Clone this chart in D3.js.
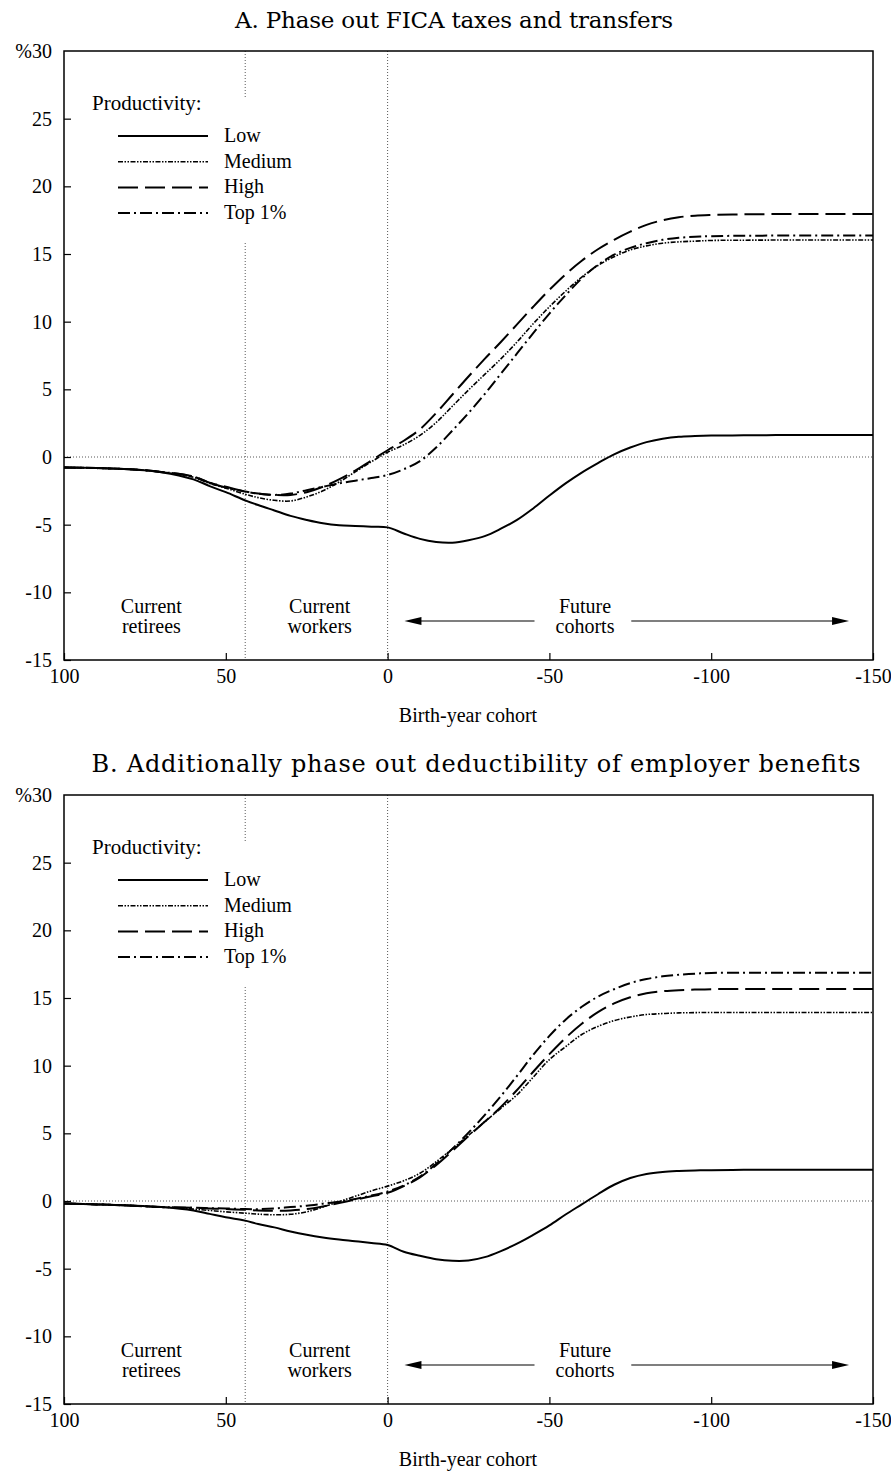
<!DOCTYPE html>
<html>
<head>
<meta charset="utf-8">
<script src="https://cdn.jsdelivr.net/npm/d3@7"></script>
<style>
    body { margin: 0; background: #fff; }
    svg text { font-family: "Liberation Serif", "Times New Roman", serif; fill: #000; }
    svg text.title { font-family: "DejaVu Serif", serif; }
</style>
</head>
<body>
<svg id="chart"></svg>
<script>
// birth-year cohorts (years before/after the reform start)
const cohorts = [100, 90, 80, 70, 60, 55, 50, 44, 40, 35, 30, 25, 20, 15, 10, 5, 0,
    -5, -10, -15, -20, -25, -30, -35, -40, -45, -50, -55, -60, -65, -70, -75, -80, -85, -90, -95, -100,
    -110, -120, -130, -140, -150];

// panel A: phase out FICA taxes and transfers
const lowA = [-0.77, -0.82, -0.9, -1.12, -1.65, -2.15, -2.6, -3.2, -3.55, -3.95, -4.35, -4.65, -4.9, -5.05, -5.1, -5.15, -5.2,
    -5.65, -6.05, -6.28, -6.33, -6.15, -5.85, -5.3, -4.65, -3.8, -2.85, -1.95, -1.15, -0.45, 0.2, 0.7, 1.1, 1.35, 1.5, 1.55, 1.58,
    1.6, 1.62, 1.62, 1.62, 1.62];
const mediumA = [-0.77, -0.82, -0.9, -1.1, -1.5, -1.95, -2.3, -2.75, -3.0, -3.2, -3.25, -2.95, -2.5, -1.85, -1.1, -0.35, 0.35,
    0.9, 1.6, 2.55, 3.75, 4.95, 6.1, 7.25, 8.5, 9.85, 11.1, 12.25, 13.3, 14.15, 14.8, 15.3, 15.6, 15.8, 15.9, 15.95, 16.0,
    16.02, 16.03, 16.03, 16.03, 16.03];
const highA = [-0.77, -0.82, -0.9, -1.1, -1.45, -1.9, -2.2, -2.55, -2.7, -2.8, -2.8, -2.6, -2.2, -1.65, -1.0, -0.25, 0.5,
    1.2, 2.05, 3.25, 4.6, 5.95, 7.25, 8.5, 9.8, 11.1, 12.35, 13.5, 14.5, 15.35, 16.05, 16.65, 17.15, 17.5, 17.72, 17.83, 17.88,
    17.93, 17.95, 17.95, 17.95, 17.95];
const topA = [-0.77, -0.82, -0.9, -1.1, -1.45, -1.9, -2.25, -2.55, -2.7, -2.8, -2.7, -2.45, -2.2, -1.95, -1.75, -1.55, -1.33,
    -0.9, -0.3, 0.7, 1.95, 3.25, 4.65, 6.15, 7.65, 9.15, 10.6, 11.95, 13.2, 14.2, 14.95, 15.45, 15.8, 16.05, 16.2, 16.28, 16.32,
    16.35, 16.36, 16.36, 16.36, 16.36];

// panel B: additionally phase out deductibility of employer benefits
const lowB = [-0.18, -0.25, -0.33, -0.45, -0.7, -0.95, -1.2, -1.45, -1.7, -1.95, -2.25, -2.5, -2.7, -2.85, -2.97, -3.1, -3.25,
    -3.75, -4.05, -4.3, -4.42, -4.4, -4.15, -3.7, -3.15, -2.5, -1.8, -1.0, -0.25, 0.5, 1.2, 1.7, 2.0, 2.15, 2.22, 2.26, 2.28,
    2.3, 2.3, 2.3, 2.3, 2.3];
const mediumB = [-0.18, -0.25, -0.33, -0.45, -0.6, -0.7, -0.8, -0.9, -0.97, -1.02, -0.98, -0.8, -0.45, -0.05, 0.35, 0.75, 1.1,
    1.5, 2.05, 2.9, 3.85, 4.85, 5.85, 6.85, 7.85, 9.15, 10.45, 11.4, 12.3, 12.9, 13.33, 13.6, 13.78, 13.85, 13.9, 13.92, 13.93,
    13.93, 13.93, 13.93, 13.93, 13.93];
const highB = [-0.18, -0.25, -0.33, -0.45, -0.5, -0.55, -0.6, -0.65, -0.7, -0.72, -0.7, -0.6, -0.4, -0.15, 0.1, 0.35, 0.6,
    1.1, 1.75, 2.65, 3.7, 4.8, 5.85, 6.95, 8.2, 9.55, 10.85, 12.05, 13.1, 13.95, 14.6, 15.05, 15.35, 15.5, 15.58, 15.62, 15.65,
    15.67, 15.67, 15.67, 15.67, 15.67];
const topB = [-0.18, -0.25, -0.33, -0.45, -0.5, -0.53, -0.55, -0.6, -0.6, -0.55, -0.45, -0.35, -0.2, -0.05, 0.15, 0.4, 0.7,
    1.15, 1.8, 2.75, 3.85, 5.05, 6.35, 7.75, 9.25, 10.8, 12.2, 13.4, 14.35, 15.1, 15.65, 16.1, 16.4, 16.6, 16.72, 16.8, 16.85,
    16.87, 16.87, 16.87, 16.87, 16.87];

const seriesNames = ["Low", "Medium", "High", "Top 1%"];
const xTicks = [100, 50, 0, -50, -100, -150];
const yTicks = [-15, -10, -5, 0, 5, 10, 15, 20, 25, 30];
const titles = ["A. Phase out FICA taxes and transfers", "B. Additionally phase out deductibility of employer benefits"];
const xLabel = "Birth-year cohort";
const legendTitle = "Productivity:";
const retireeCohort = 44;
const groupLabels = [
    {lines: ["Current", "retirees"], cohort: 73},
    {lines: ["Current", "workers"], cohort: 21},
    {lines: ["Future", "cohorts"], cohort: -61}
];
const futureArrows = [[-45.4, -5.2], [-75.3, -142.6]];

const lineStyles = {
    "Low": {width: 2, dash: null},
    "Medium": {width: 1.6, dash: "5,1.5,1.5,1.5,1.5,1.5"},
    "High": {width: 2, dash: "20,7"},
    "Top 1%": {width: 2, dash: "12,4,2,4"}
};

// title box per panel: centre x, stretched width, font size
const titleBoxes = [
    {cx: 454, w: 438, size: 23},
    {cx: 476, w: 769, size: 24}
];

class PanelChart {
    left = 64;
    width = 809;
    height = 609;

    constructor(svg, top, title, titleBox, series, id) {
        this.svg = svg;
        this.top = top;
        this.title = title;
        this.titleBox = titleBox;
        this.series = series;
        this.id = id;
    }

    initialize() {
        this.xScale = d3.scaleLinear().domain([100, -150]).range([this.left, this.left + this.width]);
        this.yScale = d3.scaleLinear().domain([-15, 30]).range([this.top + this.height, this.top]);
        this.container = this.svg.append("g");

        this.svg.append("clipPath")
            .attr("id", "clip" + this.id)
            .append("rect")
            .attr("x", this.left).attr("y", this.top)
            .attr("width", this.width).attr("height", this.height);
    }

    draw() {
        const x = this.xScale, y = this.yScale, g = this.container;

        g.append("text")
            .attr("class", "title")
            .attr("x", this.titleBox.cx)
            .attr("y", this.top - 23)
            .attr("text-anchor", "middle")
            .attr("textLength", this.titleBox.w)
            .attr("lengthAdjust", "spacing")
            .style("font-size", this.titleBox.size + "px")
            .text(this.title);

        // dotted reference lines
        const dotted = sel => sel.attr("stroke", "#444").attr("stroke-width", 0.9).attr("stroke-dasharray", "1,2");
        g.append("line")
            .attr("x1", this.left).attr("x2", this.left + this.width)
            .attr("y1", y(0)).attr("y2", y(0))
            .call(dotted);
        g.selectAll(".vref")
            .data([retireeCohort, 0])
            .join("line")
            .attr("class", "vref")
            .attr("x1", d => x(d)).attr("x2", d => x(d))
            .attr("y1", this.top).attr("y2", this.top + this.height)
            .call(dotted);

        // axes
        const xAxis = g.append("g")
            .attr("transform", `translate(0, ${this.top + this.height})`)
            .call(d3.axisBottom(x).tickValues(xTicks).tickSize(-7).tickSizeOuter(0).tickPadding(9)
                .tickFormat(d => String(d)));
        const yAxis = g.append("g")
            .attr("transform", `translate(${this.left}, 0)`)
            .call(d3.axisLeft(y).tickValues(yTicks).tickSize(-7).tickSizeOuter(0).tickPadding(12)
                .tickFormat(d => d === 30 ? "%30" : String(d)));
        [xAxis, yAxis].forEach(a => {
            a.attr("font-family", null).attr("font-size", null);
            a.selectAll("text").style("font-size", "20px");
            a.selectAll("line").attr("stroke-width", 1.2);
            a.select(".domain").remove();
        });
        yAxis.selectAll(".tick").filter(d => d === 30).select("line").remove();

        // lines
        const line = d3.line()
            .x((d, i) => x(cohorts[i]))
            .y(d => y(d))
            .curve(d3.curveCatmullRom.alpha(0.5));
        g.append("g")
            .attr("clip-path", `url(#clip${this.id})`)
            .selectAll("path")
            .data(seriesNames)
            .join("path")
            .attr("fill", "none")
            .attr("stroke", "#000")
            .attr("stroke-width", d => lineStyles[d].width)
            .attr("stroke-dasharray", d => lineStyles[d].dash)
            .attr("d", (d, i) => line(this.series[i]));

        // legend
        const legend = g.append("g");
        legend.append("rect")
            .attr("x", 80).attr("y", this.top + 48)
            .attr("width", 220).attr("height", 142)
            .attr("fill", "#fff");
        legend.append("text")
            .attr("x", 92).attr("y", this.top + 59)
            .style("font-size", "21px")
            .text(legendTitle);
        const rows = legend.selectAll(".row")
            .data(seriesNames)
            .join("g")
            .attr("class", "row")
            .attr("transform", (d, i) => `translate(0, ${this.top + 85 + i * 25.7})`);
        rows.append("line")
            .attr("x1", 118).attr("x2", 208)
            .attr("stroke", "#000")
            .attr("stroke-width", d => lineStyles[d].width)
            .attr("stroke-dasharray", d => lineStyles[d].dash);
        rows.append("text")
            .attr("x", 224).attr("y", 6)
            .style("font-size", "20px")
            .text(d => d);

        // group labels
        const labels = g.selectAll(".group")
            .data(groupLabels)
            .join("text")
            .attr("class", "group")
            .attr("text-anchor", "middle")
            .style("font-size", "20px");
        labels.selectAll("tspan")
            .data(d => d.lines.map(t => ({t, c: d.cohort})))
            .join("tspan")
            .attr("x", d => x(d.c))
            .attr("y", (d, i) => this.top + this.height - 47 + i * 20)
            .text(d => d.t);

        const ay = this.top + this.height - 39;
        futureArrows.forEach(([from, to]) => {
            const x0 = x(from), x1 = x(to), dir = Math.sign(x1 - x0);
            g.append("line")
                .attr("x1", x0).attr("x2", x1 - dir * 10)
                .attr("y1", ay).attr("y2", ay)
                .attr("stroke", "#000").attr("stroke-width", 1.2);
            g.append("path")
                .attr("d", `M${x1},${ay} L${x1 - dir * 17},${ay - 4} L${x1 - dir * 17},${ay + 4} Z`)
                .attr("fill", "#000");
        });

        // frame
        g.append("rect")
            .attr("x", this.left).attr("y", this.top)
            .attr("width", this.width).attr("height", this.height)
            .attr("fill", "none")
            .attr("stroke", "#000")
            .attr("stroke-width", 1.5);

        g.append("text")
            .attr("x", 468)
            .attr("y", this.top + this.height + 62)
            .attr("text-anchor", "middle")
            .style("font-size", "20px")
            .text(xLabel);
    }
}

const svg = d3.select("#chart").attr("width", 891).attr("height", 1471);
const panelA = new PanelChart(svg, 51, titles[0], titleBoxes[0], [lowA, mediumA, highA, topA], "A");
panelA.initialize();
panelA.draw();
const panelB = new PanelChart(svg, 795, titles[1], titleBoxes[1], [lowB, mediumB, highB, topB], "B");
panelB.initialize();
panelB.draw();
</script>
</body>
</html>
